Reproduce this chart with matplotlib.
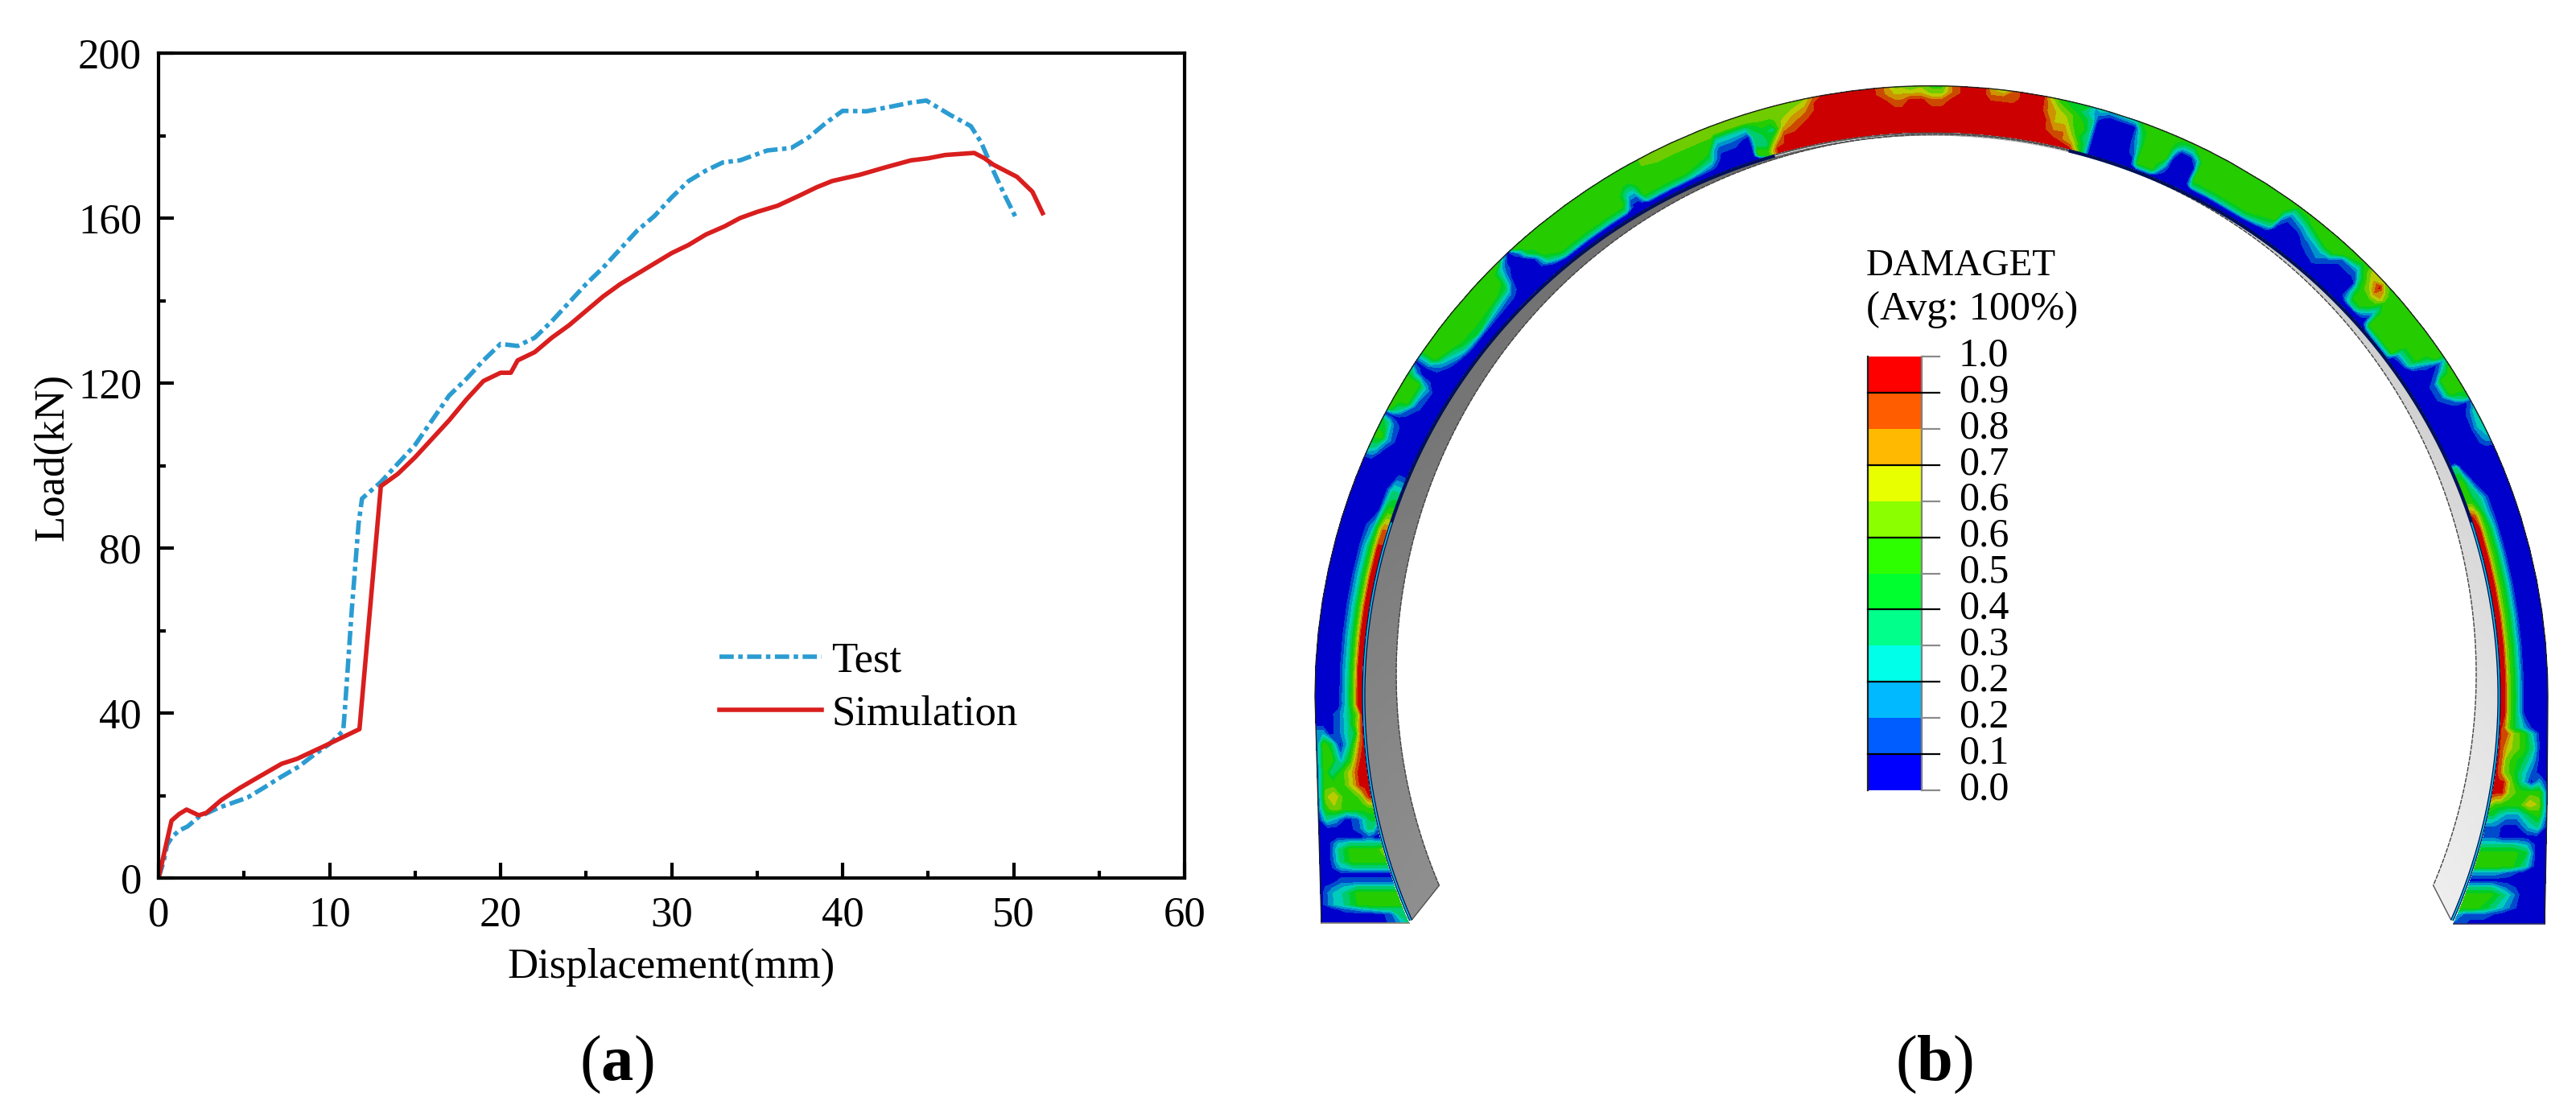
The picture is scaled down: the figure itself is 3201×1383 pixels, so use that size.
import numpy as np
import matplotlib
matplotlib.use("Agg")
import matplotlib.pyplot as plt

plt.rcParams['font.family'] = ['Liberation Serif', 'DejaVu Serif']
plt.rcParams['mathtext.fontset'] = 'custom'
plt.rcParams['mathtext.rm'] = 'Liberation Serif'
plt.rcParams['mathtext.bf'] = 'Liberation Serif:bold'

# ---------- panel (a) data ----------
test_x = [0, .3, .5, .8, 1.2, 1.7, 2.35, 3.5, 5.2, 6.2, 7.2, 8.2, 9.1, 10, 10.8, 10.9, 11.3, 11.7, 11.9, 13, 14, 15, 16, 17, 18, 19, 20, 21, 22, 23, 24, 25, 26, 27, 28, 29, 30, 31, 32, 33, 34, 35, 35.6, 37, 38, 39, 40, 41.4, 42.8, 44, 44.9, 46.3, 47.5, 48.1, 48.9, 49.5, 50.1]
test_y = [0, 4, 8, 10, 11.5, 12.5, 14.8, 17, 19.5, 22, 24.6, 27, 29.9, 32.5, 35.7, 41, 65, 86, 92, 96, 100.5, 105, 111, 117, 121, 125.5, 129.5, 129, 131, 135, 139.5, 144, 148, 152.5, 157, 160.5, 165, 169, 171.5, 173.5, 174, 175.5, 176.4, 177, 179.5, 183, 186, 185.9, 187, 188, 188.5, 185, 182.3, 178.4, 170.7, 165.4, 160.4]
sim_x = [0, .76, 1.2, 1.64, 2.35, 2.8, 3.67, 4.7, 5.9, 7.2, 8.1, 9.7, 11.75, 13, 14, 15, 16, 17, 18, 19, 20, 20.6, 21, 22, 23, 24, 25, 26, 27, 28, 29, 30, 31, 32, 33.1, 34, 35, 36.2, 37.5, 38.5, 39.4, 41, 42.5, 44, 45, 46, 47.7, 48.3, 48.8, 50.2, 51.1, 51.7]
sim_y = [0, 13.9, 15.5, 16.6, 15.2, 15.8, 18.9, 21.7, 24.6, 27.7, 28.9, 32, 36.1, 95, 98, 102, 106.5, 111, 116, 120.5, 122.5, 122.5, 125.5, 127.5, 131, 134, 137.5, 141, 144, 146.5, 149, 151.5, 153.5, 156, 158, 160, 161.5, 163, 165.5, 167.5, 169, 170.5, 172.3, 174, 174.5, 175.3, 175.8, 174.5, 173, 170, 166.4, 161.2]

# ---------- panel (b) data: damage read along the ring, digit d = band d (inner -> outer) ----------
depth_q = [0, .08, .16, .3, .5, .7, .85, 1]
lower_left_rows = [
    (1147, "32100000"), (1136, "33100000"), (1130, "33332100"), (1124, "55555320"), (1110, "55555320"),
    (1102, "33333210"), (1096, "11111100"), (1086, "00000000"), (1078, "33333200"), (1070, "55555300"),
    (1056, "65555300"), (1048, "33333200"), (1040, "00100000"), (1030, "13310000"), (1018, "44310230"),
    (1005, "55555651"), (990, "98655761"), (975, "99975551"), (960, "99975351"), (945, "99852551"),
    (925, "98630451"), (912, "97431022"), (900, "97531000"), (888, "96531000"), (875, "99630000"),
]
arch_rows = [
    (-90, "99630000"), (-87, "99630000"), (-84, "99630000"), (-81, "99630000"), (-78, "99630000"),
    (-75, "99630000"), (-73, "88620000"), (-71, "55400000"), (-69, "33300000"), (-67, "00000000"),
    (-66, "00000023"), (-64.5, "00000255"), (-63, "00000134"), (-62.3, "00000000"), (-61.8, "00000135"),
    (-60.5, "00001555"), (-58.5, "00002555"), (-57.5, "00000013"), (-56.8, "00000000"), (-55.5, "00002555"),
    (-53, "00035555"), (-51, "00045555"), (-48, "00025555"), (-46, "00014555"), (-44.8, "00000125"),
    (-44, "00000002"), (-43.4, "00000000"), (-42.8, "00000015"), (-42, "00000455"), (-41, "00035555"),
    (-39.5, "00355555"), (-36.5, "00355555"), (-34, "00355555"), (-32, "00355555"), (-31, "00013555"),
    (-30.3, "00013555"), (-29.5, "00355555"), (-27, "00355566"), (-25, "00355566"), (-22.2, "00135566"),
    (-21.5, "00012566"), (-21, "00001366"), (-19.5, "00001366"), (-18, "00000366"), (-17.5, "05533466"),
    (-16.5, "55434566"), (-15.5, "99863566"), (-14.5, "99997666"), (-13.5, "99998766"), (-12, "99999876"),
    (-11, "99999998"), (-10, "99999999"), (-7.5, "99999999"), (-5.5, "99999999"), (-4.5, "99999988"),
    (-3.5, "99999876"), (-2.8, "99999876"), (-2, "99999975"), (-1, "99999976"), (0, "99999865"),
    (1, "99999865"), (2, "99999988"), (3, "99999999"), (5, "99999999"), (5.6, "99999987"),
    (6.8, "99999986"), (7.8, "99999988"), (8.5, "99999999"), (10.5, "99999999"), (11, "99999887"),
    (12, "99987765"), (13, "99887654"), (14, "98765544"), (14.8, "65545434"), (15.5, "33333322"),
    (16, "00000013"), (17, "00000002"), (19.5, "00000003"), (20.3, "00012345"), (21, "03555555"),
    (22.5, "03555555"), (23.3, "00135555"), (24, "00000245"), (24.5, "00000035"), (25.5, "00000035"),
    (26.2, "00000255"), (26.8, "00355555"), (29, "00355555"), (32.8, "00355555"), (35.5, "00035555"),
    (36, "00001355"), (36.6, "00000135"), (38, "00000245"), (39, "00001355"), (41, "00012555"),
    (42, "00001555"), (43, "00000155"), (44.7, "00000135"), (45.3, "00000355"), (46, "00234567"),
    (46.5, "00355677"), (47.4, "00355896"), (48.2, "00135765"), (48.8, "00013555"), (49.5, "03555555"),
    (50.5, "13555555"), (53, "13555555"), (53.5, "00135555"), (55, "00035555"), (55.9, "00001355"),
    (56.5, "00000013"), (57.2, "00000135"), (58, "00001555"), (59.5, "00001555"), (60.5, "00000134"),
    (61, "00000001"), (62, "00000013"), (63.5, "00000023"), (65, "00000012"), (65.8, "00000000"),
    (66.3, "33000000"), (68, "55300000"), (70, "55430000"), (71.5, "98630000"), (73, "99640000"),
    (76, "99640000"), (79, "99640000"), (82, "99640000"), (85, "99640000"), (88, "99640000"), (90, "99640000"),
]
lower_right_rows = [
    (885, "99640000"), (905, "98642000"), (912, "98865200"), (930, "98765300"), (945, "98654200"),
    (960, "98653100"), (972, "99963020"), (985, "99965551"), (1000, "65555761"), (1012, "44322451"),
    (1028, "11100230"), (1040, "11100000"), (1050, "33333200"), (1060, "55555400"), (1076, "55555300"),
    (1084, "22221000"), (1094, "00000000"), (1103, "33331000"), (1112, "55553000"), (1128, "55542000"),
    (1136, "21110000"), (1148, "11000000"),
]
legend_labels = ["1.0", "0.9", "0.8", "0.7", "0.6", "0.6", "0.5", "0.4", "0.3", "0.2", "0.2", "0.1", "0.0"]
legend_colors = ["#ff0000", "#ff5d00", "#ffb900", "#e8ff00", "#8bff00", "#2eff00", "#00ff2e",
                 "#00ff8b", "#00ffe8", "#00b9ff", "#005dff", "#0000ff"]
grey_theta = [-113, -60, -10, 0, 10, 60, 113]
grey_level = [.56, .46, .42, .6, .78, .82, .93]

W, H = 3201, 1383
fig = plt.figure(figsize=(W / 200, H / 200), dpi=200)

# ---------- panel (a) ----------
ax = fig.add_axes([197 / W, 1 - 1091 / H, 1275 / W, 1025 / H])
ax.plot(test_x, test_y, color="#2b9cd1", lw=2.0, ls=(0, (3.2, 1, 1, 1)), label="Test")
ax.plot(sim_x, sim_y, color="#d91e1e", lw=2.0, label="Simulation")
ax.set_xlim(0, 60)
ax.set_ylim(0, 200)
ax.set_xticks(range(0, 61, 10))
ax.set_yticks(range(0, 201, 40))
ax.set_xticks(range(5, 60, 10), minor=True)
ax.set_yticks(range(20, 200, 40), minor=True)
ax.tick_params(which='major', direction='in', length=7, width=1.5, labelsize=19)
ax.tick_params(which='minor', direction='in', length=3.4, width=1.5)
ax.tick_params(axis='x', which='major', pad=8)
ax.tick_params(axis='y', which='major', pad=7.5)
for s in ax.spines.values():
    s.set_linewidth(1.5)
ax.set_xlabel("Displacement(mm)", fontsize=19)
ax.set_ylabel("Load(kN)", fontsize=19)
ax.xaxis.set_label_coords(.5, -.085)
ax.yaxis.set_label_coords(-.084, .51)
ax.legend(loc='lower left', bbox_to_anchor=(.547, .175), frameon=False, fontsize=19,
          handlelength=2.4, handletextpad=.23, labelspacing=.35, borderpad=0, borderaxespad=0)

# ---------- panel (b) ----------
bx = fig.add_axes([0, 0, 1, 1])
bx.set_xlim(0, W)
bx.set_ylim(H, 0)
bx.axis('off')
bx.patch.set_alpha(0)
cx, cy, r_in, r_out, ky = 2400.0, 865.0, 708.0, 766.0, .99
q = np.array(depth_q)


def decode(code):
    return [(int(c) + .4) / 10 for c in code]


def arch_xy(theta):
    t = np.radians(theta)
    r = r_in + q * (r_out - r_in)
    return cx + r * np.sin(t), cy - r * np.cos(t) * ky


def lower_xy(y, side):
    xi = np.sqrt(r_in ** 2 - (y - cy) ** 2)
    if side < 0:
        xo = np.interp(y, [865, 1000, 1147], [766, 762, 758])
    else:
        xo = np.interp(y, [865, 1000, 1147], [766, 765, 762])
    return cx + side * (xi + q * (xo - xi)), np.full_like(q, y)


Xs, Ys, Zs = [], [], []
for y, code in lower_left_rows:
    a, b = lower_xy(y, -1); Xs.append(a); Ys.append(b); Zs.append(decode(code))
for th, code in arch_rows:
    a, b = arch_xy(th); Xs.append(a); Ys.append(b); Zs.append(decode(code))
for y, code in lower_right_rows:
    a, b = lower_xy(y, 1); Xs.append(a); Ys.append(b); Zs.append(decode(code))
X, Y, Z = np.array(Xs), np.array(Ys), np.array(Zs)

# shaded contour colours: the model is lit at 80 %
rgb = [matplotlib.colors.to_rgb(c) for c in legend_colors[::-1]]
shaded = [tuple(.8 * v for v in c) for c in rgb]
bx.contourf(X, Y, Z, levels=np.linspace(0, 1, 13), colors=shaded, antialiased=False, zorder=3)

# grey inner surface of the lining
tg = np.linspace(-113, 113, 301)
rad = np.radians(tg)
tr = np.radians(tg * 113.5 / 113)
Xg = np.column_stack([2406 + 671 * np.sin(rad), cx + 704 * np.sin(tr)])
Yg = np.column_stack([838 - 671 * np.cos(rad), cy - 704 * np.cos(tr) * ky])
Cg = np.interp(tg, grey_theta, grey_level)
bx.pcolormesh(Xg, Yg, np.column_stack([Cg, Cg]), cmap='gray', vmin=0, vmax=1, shading='gouraud', zorder=1)
bx.plot(Xg[:, 0], Yg[:, 0], color='#444444', lw=.5, ls=(0, (4, 1)), zorder=2)
bx.plot([Xg[0, 0], Xg[0, 1]], [Yg[0, 0], Yg[0, 1]], color='#555555', lw=.5, zorder=2)
bx.plot([Xg[-1, 0], Xg[-1, 1]], [Yg[-1, 0], Yg[-1, 1]], color='#555555', lw=.5, zorder=2)

# thin layered edge and outlines
for a, b in [(-113.5, -16), (14, 113.5)]:
    rs = np.radians(np.linspace(a, b, 250))
    bx.plot(cx + 705.5 * np.sin(rs), cy - 705.5 * np.cos(rs) * ky, color='#00105a', lw=1.5, zorder=4,
            solid_capstyle='butt')
rs = np.radians(np.linspace(-16, 14, 60))
bx.plot(cx + 706.5 * np.sin(rs), cy - 706.5 * np.cos(rs) * ky, color='#555555', lw=.7, zorder=4,
        solid_capstyle='butt')
for a, b in [(-113.5, -72), (72, 113.5)]:
    rs = np.radians(np.linspace(a, b, 100))
    bx.plot(cx + 705.5 * np.sin(rs), cy - 705.5 * np.cos(rs) * ky, color='#10c0e0', lw=.6, zorder=5,
            solid_capstyle='butt')
bx.plot(X[:, -1], Y[:, -1], color='#202020', lw=.5, zorder=4)
bx.plot([X[0, 0], X[0, -1]], [Y[0, 0], Y[0, -1]], color='#8a8670', lw=.6, zorder=4)
bx.plot([X[-1, 0], X[-1, -1]], [Y[-1, 0], Y[-1, -1]], color='#303060', lw=.6, zorder=4)

# legend of the contour
top, bot, lx0, lx1, lx2 = 443.0, 982.0, 2321.0, 2388.0, 2410.0
edges = np.linspace(top, bot, 13)
for i, c in enumerate(legend_colors):
    bx.fill_between([lx0, lx1], edges[i], edges[i + 1], color=c, lw=0, zorder=6)
bx.plot([lx0, lx0], [top, bot], color='#202020', lw=.8, zorder=7)
bx.plot([lx1, lx1], [top, bot], color='#808080', lw=.8, zorder=7)
for i, (e, lab) in enumerate(zip(edges, legend_labels)):
    col = '#8a8a8a' if i % 2 == 0 else '#000000'
    x0 = lx1 if i % 2 == 0 else lx0
    bx.plot([x0, lx2], [e, e], color=col, lw=.8, zorder=8)
    bx.text(2434, e - 1, lab, fontsize=18, va='center', ha='left', zorder=8)
bx.text(2319, 342, "DAMAGET", fontsize=17, va='baseline', ha='left')
bx.text(2319, 397, "(Avg: 100%)", fontsize=18.3, va='baseline', ha='left')

bx.text(766, 1342, r"($\mathbf{a}$)", fontsize=29, ha='center', va='baseline')
bx.text(2403, 1342, r"($\mathbf{b}$)", fontsize=29, ha='center', va='baseline')

fig.savefig("out.png", dpi=200)
